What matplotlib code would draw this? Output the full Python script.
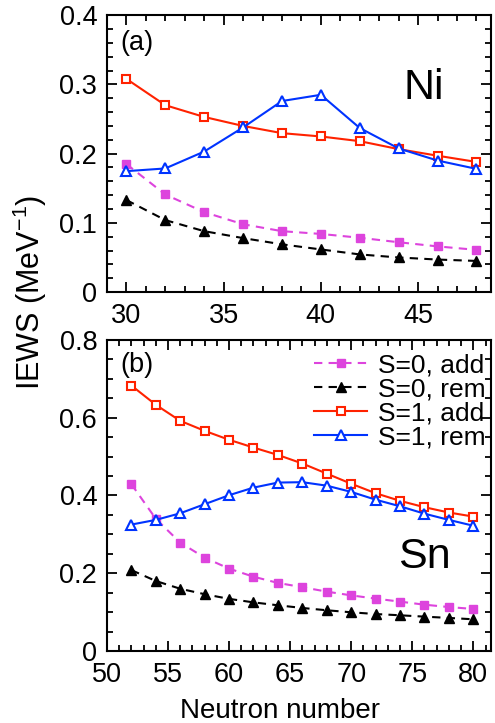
import matplotlib
matplotlib.use("Agg")
import matplotlib.pyplot as plt
from matplotlib.ticker import MultipleLocator

plt.rcParams['font.family'] = ['Liberation Sans', 'DejaVu Sans']
plt.rcParams['mathtext.fontset'] = 'custom'
plt.rcParams['mathtext.rm'] = 'Liberation Sans'

# Ni (top panel)
n_ni = [30, 32, 34, 36, 38, 40, 42, 44, 46, 48]
ni_s0_add = [0.185, 0.141, 0.1155, 0.098, 0.088, 0.084, 0.0785, 0.072, 0.066, 0.061]
ni_s0_rem = [0.133, 0.104, 0.088, 0.078, 0.069, 0.0616, 0.0544, 0.050, 0.047, 0.045]
ni_s1_add = [0.308, 0.270, 0.253, 0.240, 0.2296, 0.2248, 0.218, 0.2065, 0.197, 0.188]
ni_s1_rem = [0.1747, 0.1786, 0.203, 0.2378, 0.276, 0.285, 0.237, 0.2075, 0.190, 0.178]

# Sn (bottom panel)
n_sn = [52, 54, 56, 58, 60, 62, 64, 66, 68, 70, 72, 74, 76, 78, 80]
sn_s0_add = [0.429, 0.340, 0.2786, 0.240, 0.2117, 0.191, 0.175, 0.164, 0.1526, 0.143,
             0.1346, 0.1269, 0.119, 0.113, 0.108]
sn_s0_rem = [0.208, 0.180, 0.160, 0.146, 0.134, 0.125, 0.1175, 0.1106, 0.1047, 0.0995,
             0.095, 0.0918, 0.0883, 0.085, 0.0815]
sn_s1_add = [0.6825, 0.633, 0.5917, 0.566, 0.543, 0.523, 0.504, 0.482, 0.456, 0.430,
             0.4056, 0.386, 0.3696, 0.356, 0.3455]
sn_s1_rem = [0.325, 0.337, 0.354, 0.3774, 0.4005, 0.420, 0.433, 0.434, 0.425, 0.409,
             0.389, 0.372, 0.353, 0.337, 0.322]

labels = ['S=0, add', 'S=0, rem', 'S=1, add', 'S=1, rem']

C_MAG = '#dd44dd'
C_BLK = '#000000'
C_RED = '#ff2200'
C_BLU = '#0033ff'

FS = 19.5

fig = plt.figure(figsize=(4.95, 7.23), dpi=100)
ax1 = fig.add_axes([0.216, 0.596, 0.776, 0.383])
ax2 = fig.add_axes([0.216, 0.0996, 0.776, 0.4304])

def draw(ax, x, s0a, s0r, s1a, s1r):
    ax.plot(x, s0a, ls='--', color=C_MAG, lw=1.5, marker='s', ms=6,
            mfc=C_MAG, mec=C_MAG, dashes=(4, 3), label=labels[0])
    ax.plot(x, s0r, ls='--', color=C_BLK, lw=1.5, marker='^', ms=7,
            mfc=C_BLK, mec=C_BLK, dashes=(4, 3), label=labels[1])
    ax.plot(x, s1a, ls='-', color=C_RED, lw=1.5, marker='s', ms=6,
            mfc='white', mec=C_RED, mew=1.5, label=labels[2])
    ax.plot(x, s1r, ls='-', color=C_BLU, lw=1.5, marker='^', ms=7,
            mfc='white', mec=C_BLU, mew=1.5, label=labels[3])

def style(ax):
    for sp in ax.spines.values():
        sp.set_linewidth(1.5)
    ax.tick_params(which='both', direction='in', top=True, right=True,
                   labelsize=FS, width=1.3)
    ax.tick_params(which='major', length=7)
    ax.tick_params(axis='x', which='major', pad=8)
    ax.tick_params(axis='y', which='major', pad=7)
    ax.tick_params(which='minor', length=4)

draw(ax1, n_ni, ni_s0_add, ni_s0_rem, ni_s1_add, ni_s1_rem)
ax1.set_xlim(29, 48.75)
ax1.set_ylim(0, 0.4)
ax1.xaxis.set_major_locator(MultipleLocator(5))
ax1.xaxis.set_minor_locator(MultipleLocator(1))
ax1.set_yticks([0, 0.1, 0.2, 0.3, 0.4])
ax1.set_yticklabels(['0', '0.1', '0.2', '0.3', '0.4'])
ax1.yaxis.set_minor_locator(MultipleLocator(0.02))
style(ax1)
ax1.text(0.034, 0.90, '(a)', transform=ax1.transAxes, fontsize=FS, va='center', ha='left')
ax1.text(0.826, 0.736, 'Ni', transform=ax1.transAxes, fontsize=31, va='center', ha='center')

draw(ax2, n_sn, sn_s0_add, sn_s0_rem, sn_s1_add, sn_s1_rem)
ax2.set_xlim(50, 81.45)
ax2.set_ylim(0, 0.8)
ax2.xaxis.set_major_locator(MultipleLocator(5))
ax2.xaxis.set_minor_locator(MultipleLocator(1))
ax2.set_yticks([0, 0.2, 0.4, 0.6, 0.8])
ax2.set_yticklabels(['0', '0.2', '0.4', '0.6', '0.8'])
ax2.yaxis.set_minor_locator(MultipleLocator(0.05))
style(ax2)
ax2.text(0.034, 0.92, '(b)', transform=ax2.transAxes, fontsize=FS, va='center', ha='left')
ax2.text(0.826, 0.302, 'Sn', transform=ax2.transAxes, fontsize=31, va='center', ha='center')
ax2.legend(loc='upper right', bbox_to_anchor=(0.985, 0.957), frameon=False, fontsize=19,
           handlelength=2.0, handletextpad=0.4, labelspacing=0.0, borderaxespad=0.0,
           borderpad=0.0)
ax2.set_xlabel('Neutron number', fontsize=20)
ax2.xaxis.set_label_coords(0.45, -0.152)

fig.text(0.06, 0.596, 'IEWS (MeV$^{-1}$)', rotation=90, fontsize=22, va='center', ha='center')

fig.savefig('out.png', dpi=100)
